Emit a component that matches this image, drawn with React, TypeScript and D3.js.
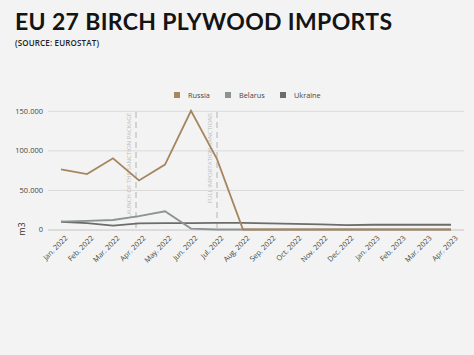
import React, { useEffect, useRef } from "react";
import * as d3 from "d3";

const months = [
  "Jan. 2022", "Feb. 2022", "Mar. 2022", "Apr. 2022", "May. 2022", "Jun. 2022",
  "Jul. 2022", "Aug. 2022", "Sep. 2022", "Oct. 2022", "Nov. 2022", "Dec. 2022",
  "Jan. 2023", "Feb. 2023", "Mar. 2023", "Apr. 2023",
];
const russia = [76000, 70000, 90000, 62000, 82000, 150000, 89000, 0, 0, 0, 0, 0, 0, 0, 0, 0];
const belarus = [10000, 11000, 12000, 17000, 23000, 1200, 0, 0, 0, 0, 0, 0, 0, 0, 0, 0];
const ukraine = [9800, 8000, 5000, 7800, 8000, 8000, 8400, 8400, 7800, 7200, 6500, 5600, 6000, 6000, 6000, 6000];
const yTicks = [0, 50000, 100000, 150000];

const series = [
  { name: "Russia", values: russia, color: "#a5865f" },
  { name: "Belarus", values: belarus, color: "#8b9394" },
  { name: "Ukraine", values: ukraine, color: "#6c6d69" },
];
const events = [
  { month: "Apr. 2022", label: "LAUNCH OF THE SANCTION PACKAGE", shift: -3 },
  { month: "Jul. 2022", label: "FULL IMPORTATION SANCTIONS", shift: 0 },
];

export default function App() {
  const ref = useRef<SVGSVGElement>(null);

  useEffect(() => {
    const width = 474,
      height = 355;
    const svg = d3.select(ref.current);
    svg.selectAll("*").remove();
    svg.attr("width", width).attr("height", height);

    const font = "'Open Sans', sans-serif";

    svg.append("rect").attr("width", width).attr("height", height).attr("fill", "#f3f3f3");

    svg
      .append("text")
      .attr("x", 15)
      .attr("y", 30)
      .attr("font-family", "Lato, sans-serif")
      .attr("font-weight", 700)
      .attr("font-size", 23)
      .attr("textLength", 377)
      .attr("fill", "#141414")
      .text("EU 27 BIRCH PLYWOOD IMPORTS");

    svg
      .append("text")
      .attr("x", 15)
      .attr("y", 46)
      .attr("font-family", font)
      .attr("font-weight", 600)
      .attr("font-size", 8)
      .attr("textLength", 84)
      .attr("fill", "#222")
      .text("(SOURCE: EUROSTAT)");

    const x = d3.scaleBand().domain(months).range([48, 464]);
    const y = d3.scaleLinear().domain([0, 150000]).range([229.5, 110.8]);
    const cx = (m: string) => (x(m) ?? 0) + x.bandwidth() / 2;

    // grid
    const yAxis = svg
      .append("g")
      .attr("transform", "translate(48,0)")
      .call(
        d3
          .axisLeft(y)
          .tickValues(yTicks)
          .tickSize(-416)
          .tickFormat((d) => d3.format(",")(d as number).replace(/,/g, "."))
      );
    yAxis.select(".domain").remove();
    yAxis
      .selectAll(".tick line")
      .attr("stroke", (d) => ((d as number) === 0 ? "#c4c4c4" : "#dadada"))
      .attr("stroke-width", 1);
    yAxis
      .selectAll(".tick text")
      .attr("x", -5)
      .attr("font-family", font)
      .attr("font-size", 7.5)
      .attr("fill", "#444");

    svg
      .append("text")
      .attr("transform", "translate(25,229) rotate(-90)")
      .attr("text-anchor", "middle")
      .attr("font-family", font)
      .attr("font-size", 9)
      .attr("fill", "#333")
      .text("m3");

    // x axis labels
    const xAxis = svg
      .append("g")
      .attr("transform", "translate(0,229.5)")
      .call(d3.axisBottom(x).tickSize(0));
    xAxis.select(".domain").remove();
    xAxis
      .selectAll(".tick text")
      .attr("font-family", font)
      .attr("font-size", 7.3)
      .attr("fill", "#444")
      .attr("text-anchor", "end")
      .attr("dy", 0)
      .attr("transform", "translate(5,7) rotate(-45)");

    // event markers
    events.forEach((e) => {
      const ex = cx(e.month) + e.shift;
      svg
        .append("line")
        .attr("x1", ex)
        .attr("x2", ex)
        .attr("y1", 112)
        .attr("y2", 229)
        .attr("stroke", "#b3b3b3")
        .attr("stroke-width", 1)
        .attr("stroke-dasharray", "6,4");
      svg
        .append("text")
        .attr("transform", `translate(${ex - 5},113) rotate(-90)`)
        .attr("text-anchor", "end")
        .attr("font-family", font)
        .attr("font-size", 6)
        .attr("fill", "#bdbdbd")
        .text(e.label);
    });

    const line = d3
      .line<number>()
      .x((_, i) => cx(months[i]))
      .y((d) => y(d));

    [...series].reverse().forEach((s) => {
      svg
        .append("path")
        .datum(s.values)
        .attr("d", line)
        .attr("fill", "none")
        .attr("stroke", s.color)
        .attr("stroke-width", 1.8)
        .attr("stroke-linejoin", "miter");
    });

    // legend
    const legendX = [174, 225, 280];
    series.forEach((s, i) => {
      const g = svg.append("g").attr("transform", `translate(${legendX[i]},95)`);
      g.append("rect").attr("x", 0).attr("y", -3).attr("width", 6).attr("height", 6).attr("fill", s.color);
      g.append("text")
        .attr("x", 14)
        .attr("y", 2.5)
        .attr("font-family", font)
        .attr("font-size", 7.3)
        .attr("fill", "#444")
        .text(s.name);
    });
  }, []);

  return (
    <>
      <style>{"body{margin:0}"}</style>
      <svg ref={ref} style={{ display: "block" }}></svg>
    </>
  );
}
